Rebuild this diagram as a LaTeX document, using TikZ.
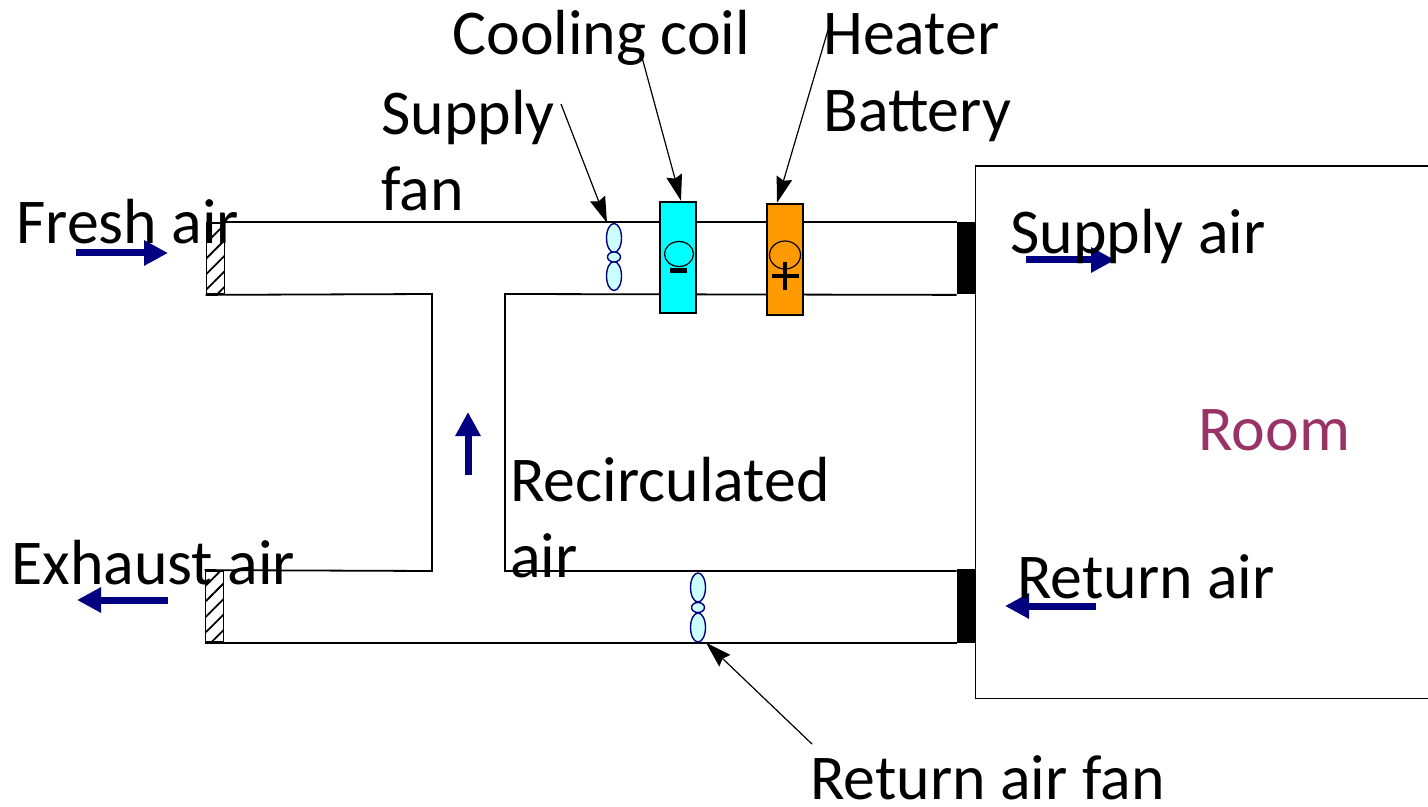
\documentclass[tikz,border=0pt]{standalone}
\usepackage{fontspec}
\setmainfont{Carlito}
\usepackage{tikz}
\usetikzlibrary{positioning,arrows.meta,shapes.geometric,patterns.meta}

\definecolor{airblue}{RGB}{0,0,128}
\definecolor{coilcyan}{RGB}{0,255,255}
\definecolor{heatorange}{RGB}{255,153,0}
\definecolor{fanblue}{RGB}{204,255,255}
\definecolor{roomplum}{RGB}{153,51,102}

\begin{document}
\begin{tikzpicture}[
  x=0.5pt, y=-0.5pt,
  lbl/.style={inner sep=0pt, anchor=base west, align=left, font=\fontsize{31.9}{38}\selectfont},
  duct/.style={draw=black, line width=0.9pt},
  damper/.style={rectangle, draw=black, line width=0.9pt, inner sep=0pt, minimum width=9pt, pattern={Lines[angle=45,distance=5.5pt,line width=0.9pt]}},
  grille/.style={rectangle, fill=black, inner sep=0pt, minimum width=9pt},
  coilbox/.style={rectangle, draw=black, line width=1.2pt, inner sep=0pt, minimum width=18pt, minimum height=55.5pt},
  blade/.style={ellipse, draw=airblue, fill=fanblue, line width=0.7pt, inner sep=0pt, minimum width=7.5pt, minimum height=14.5pt},
  hub/.style={ellipse, draw=airblue, fill=fanblue, line width=0.7pt, inner sep=0pt, minimum width=6.5pt, minimum height=5pt},
  ring/.style={ellipse, draw=black, line width=0.6pt, inner sep=0pt},
  flow/.style={-{Triangle[length=12pt,width=12pt]}, draw=airblue, line width=3.5pt},
  leader/.style={-{Stealth[length=13pt,width=8pt,inset=1.5pt]}, draw=black, line width=0.6pt},
]
\useasboundingbox (0,0) rectangle (1428,807);

% ducts
\node[damper, minimum height=35.5pt] (dmpin) at (215.5,258.5) {};
\node[damper, minimum height=35.5pt] (dmpout) at (214.5,606.5) {};
\node[grille, minimum height=36pt] (grsup) at (966,258.5) {};
\node[grille, minimum height=37pt] (grret) at (966,605.5) {};
\coordinate (recl1) at (432,294);
\coordinate (recl2) at (432,571);
\coordinate (recr1) at (505,294);
\coordinate (recr2) at (505,571);

\draw[duct] (dmpin.north east) -- (grsup.west |- dmpin.north);
\draw[duct] (dmpin.south west) -- (recl1) -- (recl2) -- (dmpout.north west);
\draw[duct] (grsup.west |- dmpin.south) -- (recr1) -- (recr2) -- (grret.west |- recr2);
\draw[duct] (dmpout.south west) -- (grret.west |- dmpout.south);

\node[rectangle, draw=black, line width=0.9pt, inner sep=0pt, minimum width=232pt, minimum height=266pt, anchor=north west] (room) at (974.5,165.5) {};

% coil and heater
\node[coilbox, fill=coilcyan] (coil) at (678,257.5) {};
\node[coilbox, fill=heatorange] (heater) at (785,259.5) {};
\node[ring, minimum width=14.5pt, minimum height=12.5pt] (coilring) at (679,254) {};
\node[ring, minimum width=15.5pt, minimum height=14pt] (heatring) at (785,255) {};
\node[rectangle, fill=black, inner sep=0pt, minimum width=8.5pt, minimum height=2.5pt] (minus) at (678,271) {};
\node[rectangle, fill=black, inner sep=0pt, minimum width=13.5pt, minimum height=2.4pt] (plush) at (785,276) {};
\node[rectangle, fill=black, inner sep=0pt, minimum width=2.4pt, minimum height=14pt] (plusv) at (785,276) {};

% fans
\node[blade] (supb1) at (614,238) {};
\node[blade] (supb2) at (614,276) {};
\node[hub] (suphub) at (614,257) {};
\node[blade] (retb1) at (698,587.5) {};
\node[blade] (retb2) at (698,627.5) {};
\node[hub] (rethub) at (698,607.5) {};

% air flow
\coordinate (fr1) at (76,253);
\coordinate (fr2) at (168,253);
\coordinate (su1) at (1026,260);
\coordinate (su2) at (1115,260);
\coordinate (ex1) at (168,600);
\coordinate (ex2) at (77,600);
\coordinate (re1) at (1096,606);
\coordinate (re2) at (1005,606);
\coordinate (rc1) at (468,475);
\coordinate (rc2) at (468,412);
\draw[flow] (fr1) -- (fr2);
\draw[flow] (su1) -- (su2);
\draw[flow] (ex1) -- (ex2);
\draw[flow] (re1) -- (re2);
\draw[flow] (rc1) -- (rc2);

% labels
\node[lbl] (lfresh) at (16,243.5) {Fresh air};
\node[lbl] (lexh) at (11,584.5) {Exhaust air};
\node[lbl] (lcool) at (452,55) {Cooling coil};
\node[lbl] (lheat) at (823,55) {Heater};
\node[lbl] (lbatt) at (823,131.5) {Battery};
\node[lbl] (lsup) at (381,134.5) {Supply};
\node[lbl] (lfan) at (381,211) {fan};
\node[lbl] (lsupa) at (1010,253.5) {Supply air};
\node[lbl, text=roomplum] (lroom) at (1198,450) {Room};
\node[lbl] (lrec) at (510,501) {Recirculated};
\node[lbl] (lrec2) at (510,577.5) {air};
\node[lbl] (lreta) at (1017,598.5) {Return air};
\node[lbl] (lretf) at (810,799) {Return air fan};

% leaders
\coordinate (ldsup) at (561,104);
\coordinate (ldcool) at (640,50);
\coordinate (ldheat) at (828,30);
\coordinate (ldret) at (812,744);
\draw[leader] (ldsup) -- ([xshift=-3.5pt]supb1.north);
\draw[leader] (ldcool) -- ([xshift=1.5pt]coil.north);
\draw[leader] (ldheat) -- ([xshift=-4pt]heater.north);
\draw[leader] (ldret) -- ([xshift=4pt]retb2.south);
\end{tikzpicture}
\end{document}
